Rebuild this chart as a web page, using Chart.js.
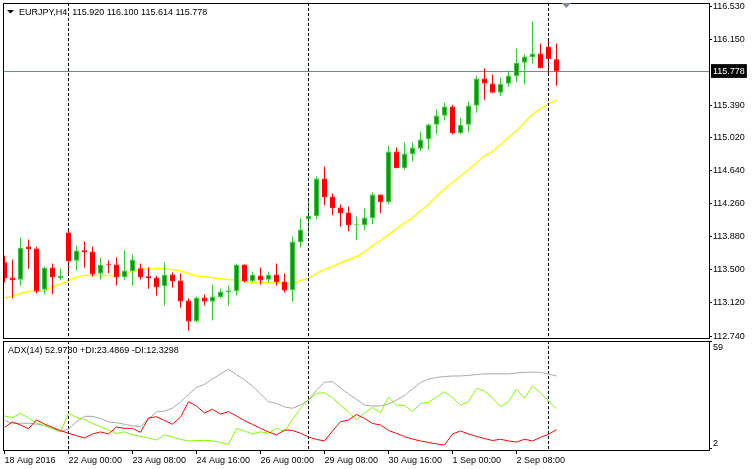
<!DOCTYPE html>
<html><head><meta charset="utf-8">
<script src="https://cdn.jsdelivr.net/npm/chart.js@4/dist/chart.umd.min.js"></script>
<style>
html,body{margin:0;padding:0;background:#fff;}
#wrap{position:relative;width:752px;height:469px;overflow:hidden;background:#fff;}
#c1{position:absolute;left:0;top:0;}
#c2{position:absolute;left:0;top:340px;}
.lbl{position:absolute;font:9px "Liberation Sans",Arial,sans-serif;color:#000;white-space:pre;}
</style></head><body>
<div id="wrap">
<canvas id="c1" width="752" height="340"></canvas>
<canvas id="c2" width="752" height="129"></canvas>
<div class="lbl" style="left:19px;top:7px">EURJPY,H4  115.920 116.100 115.614 115.778</div>
<div class="lbl" style="left:8px;top:345px">ADX(14) 52.9780 +DI:23.4869 -DI:12.3298</div>
</div>
<script>
// ---- data (H4 bars, left to right) ----
const openP = [113.588,113.413,113.386,113.769,113.746,113.272,113.528,113.405,113.929,113.604,
113.726,113.711,113.455,113.562,113.562,113.416,113.485,113.520,113.428,113.413,
113.313,113.447,113.378,113.149,112.908,113.183,113.134,113.187,113.244,113.256,
113.562,113.370,113.436,113.386,113.447,113.367,113.267,113.818,114.082,114.117,
114.549,114.343,114.216,114.159,114.013,114.013,114.094,114.366,114.277,114.859,
114.668,114.828,114.890,115.001,115.166,115.269,115.376,115.069,115.166,115.384,
115.698,115.640,115.533,115.637,115.724,115.878,115.942,115.985,116.065,115.920];
const highP = [113.665,113.619,113.869,113.849,113.765,113.539,113.573,113.516,113.964,113.780,
113.826,113.765,113.642,113.608,113.642,113.723,113.677,113.573,113.531,113.436,
113.585,113.470,113.459,113.172,113.195,113.218,113.332,113.287,113.321,113.573,
113.562,113.482,113.528,113.482,113.573,113.459,113.884,114.090,114.297,114.572,
114.687,114.377,114.251,114.228,114.113,114.205,114.389,114.366,114.928,114.905,
114.963,114.963,115.089,115.181,115.342,115.419,115.396,115.250,115.433,115.732,
115.812,115.743,115.709,115.789,116.042,115.973,116.355,116.099,116.145,116.100];
const lowP = [113.359,113.175,113.321,113.513,113.232,113.221,113.221,113.378,113.436,113.493,
113.528,113.424,113.390,113.462,113.321,113.386,113.321,113.390,113.283,113.206,
113.091,113.298,113.068,112.804,112.896,113.091,112.919,113.172,113.091,113.206,
113.359,113.359,113.332,113.359,113.321,113.241,113.137,113.757,113.918,114.082,
114.243,114.128,113.998,113.944,113.841,113.956,114.025,114.151,114.254,114.668,
114.653,114.748,114.863,114.874,115.058,115.215,115.058,115.058,115.081,115.304,
115.453,115.533,115.499,115.602,115.660,115.632,115.870,115.816,115.747,115.614];
const closeP = [113.405,113.382,113.754,113.738,113.252,113.524,113.416,113.432,113.600,113.723,
113.703,113.447,113.559,113.554,113.416,113.493,113.619,113.416,113.405,113.301,
113.444,113.370,113.137,112.908,113.183,113.137,113.195,113.252,113.264,113.559,
113.370,113.444,113.378,113.444,113.359,113.264,113.826,113.964,114.125,114.549,
114.335,114.208,114.151,114.013,114.025,114.102,114.366,114.277,114.859,114.668,
114.836,114.905,114.997,115.169,115.273,115.376,115.069,115.166,115.388,115.698,
115.640,115.533,115.637,115.732,115.878,115.950,115.985,115.816,115.919,115.778];
const maLine = [113.177,113.195,113.229,113.252,113.256,113.256,113.309,113.338,113.378,113.419,
113.436,113.436,113.436,113.436,113.436,113.459,113.487,113.505,113.513,113.513,
113.513,113.501,113.490,113.459,113.430,113.421,113.409,113.398,113.390,113.386,
113.367,113.352,113.352,113.352,113.350,113.344,113.346,113.378,113.405,113.459,
113.505,113.539,113.579,113.619,113.654,113.706,113.780,113.838,113.906,113.975,
114.036,114.098,114.182,114.254,114.345,114.427,114.504,114.578,114.653,114.727,
114.813,114.859,114.940,115.020,115.101,115.192,115.290,115.353,115.407,115.453];
const adxLine = [17.2,15.7,15.7,15.7,15.3,14.5,12.9,11.2,12.7,16.4,
19.4,19.4,18.3,16.4,16.0,15.2,14.3,13.9,18.0,21.7,
22.2,23.8,27.0,31.0,34.8,36.4,39.3,42.0,44.5,41.7,
38.8,35.6,31.3,27.2,26.3,24.4,23.7,25.4,28.1,33.4,
37.5,37.9,34.5,31.3,28.4,25.4,24.9,24.9,26.0,28.1,
30.5,34.0,37.4,39.3,40.1,40.6,40.9,40.9,41.2,41.7,
42.0,42.0,42.0,42.0,42.5,42.8,43.0,42.8,42.0,40.9];
const plusDI = [19.6,18.8,21.0,18.5,15.9,14.5,12.9,11.2,21.0,18.8,
17.7,15.6,13.9,12.1,10.2,11.2,9.6,8.7,7.9,6.8,
9.5,8.4,7.1,6.3,6.5,6.6,6.3,5.5,4.5,12.9,
11.6,10.0,11.1,10.4,13.2,11.3,17.7,23.6,28.1,31.6,
32.0,29.2,25.4,21.7,17.5,21.2,24.1,21.4,29.5,25.4,
25.2,22.0,26.2,26.9,29.7,32.5,29.5,25.2,27.2,34.3,
32.9,29.2,24.6,27.2,34.0,29.0,35.6,31.8,27.6,23.5];
const minusDI = [13.5,16.4,14.8,12.8,17.5,15.3,13.5,11.8,10.4,9.1,
7.9,10.0,11.1,10.0,13.7,13.0,13.0,10.9,18.5,19.2,
17.2,15.2,19.0,27.2,24.9,21.2,23.2,20.6,21.9,19.6,
17.1,15.1,13.0,11.1,9.5,12.1,11.9,10.4,8.4,7.1,
6.3,11.6,16.5,17.5,20.4,18.3,15.6,14.8,11.9,10.3,
8.6,7.3,6.3,5.5,4.7,4.1,10.0,11.6,10.0,8.7,
7.6,6.5,7.2,6.3,5.7,7.2,6.3,8.2,9.8,12.3];
const priceTicks = [116.530,116.150,115.778,115.390,115.020,114.640,114.260,113.880,113.500,113.120,112.740];
const bidPrice = 115.778;
const timeTickBars = [0,8,16,24,32,40,48,56,64];
const timeTickLabels = ['18 Aug 2016','22 Aug 00:00','23 Aug 08:00','24 Aug 16:00','26 Aug 00:00','29 Aug 08:00','30 Aug 16:00','1 Sep 00:00','2 Sep 08:00'];
const separatorBars = [8,38,68];
const adxTicks = [2,59];

// ---- chart ----
Chart.defaults.font.family = '"Liberation Sans", Arial, sans-serif';
Chart.defaults.font.size = 9;
Chart.defaults.color = '#000';

const xMin = -0.1875, xMax = 88.0625;
const idx = openP.map((_, i) => i);
const BULL_EDGE = '#32cd32', BULL_FILL = '#228b22', BEAR = '#ff0000';
const isBull = i => closeP[i] >= openP[i];

function noPad(s) { s.paddingTop = 0; s.paddingBottom = 0; s.paddingLeft = 0; s.paddingRight = 0; }
function drawSeparators(chart) {
  const {ctx, chartArea: a, scales: {x}} = chart;
  ctx.save();
  ctx.strokeStyle = '#000'; ctx.lineWidth = 1; ctx.setLineDash([3, 2]);
  separatorBars.forEach(b => {
    const px = Math.floor(x.getPixelForValue(b)) + 0.5;
    ctx.beginPath(); ctx.moveTo(px, a.top); ctx.lineTo(px, a.bottom); ctx.stroke();
  });
  ctx.restore();
}
function drawFrame(chart) {
  const {ctx, chartArea: a} = chart;
  ctx.save(); ctx.strokeStyle = '#000'; ctx.lineWidth = 1;
  ctx.strokeRect(Math.round(a.left) + 0.5, Math.round(a.top) + 0.5, Math.round(a.right - a.left), Math.round(a.bottom - a.top));
  ctx.restore();
}

const mainPlugin = {
  id: 'mainDeco',
  beforeDatasetDraw(chart, args) { if (args.index === 0) drawSeparators(chart); },
  afterDatasetsDraw(chart) {
    drawFrame(chart);
    const ctx = chart.ctx;
    ctx.save();
    ctx.fillStyle = '#000';
    ctx.beginPath(); ctx.moveTo(7, 10); ctx.lineTo(14, 10); ctx.lineTo(10.5, 13.5); ctx.closePath(); ctx.fill();
    ctx.fillStyle = '#7f8a96';
    ctx.beginPath(); ctx.moveTo(561.5, 3); ctx.lineTo(571, 3); ctx.lineTo(566.25, 8); ctx.closePath(); ctx.fill();
    ctx.restore();
  }
};
const adxPlugin = {
  id: 'adxDeco',
  beforeDatasetsDraw(chart) { drawSeparators(chart); },
  afterDatasetsDraw(chart) { drawFrame(chart); }
};

new Chart(document.getElementById('c1'), {
  type: 'bar',
  data: { datasets: [
    { label: 'Body', data: idx.map(i => ({x: i, y: [openP[i], closeP[i]]})), order: 0, grouped: false,
      maxBarThickness: 5, minBarLength: 1, borderWidth: 1, borderSkipped: false, inflateAmount: 0,
      backgroundColor: c => isBull(c.dataIndex) ? BULL_FILL : BEAR,
      borderColor: c => isBull(c.dataIndex) ? BULL_EDGE : BEAR },
    { label: 'Wick', data: idx.map(i => ({x: i, y: [lowP[i], highP[i]]})), order: 1, grouped: false,
      maxBarThickness: 1, borderWidth: 0, inflateAmount: 0,
      backgroundColor: c => isBull(c.dataIndex) ? BULL_EDGE : BEAR },
    { type: 'line', label: 'MA', data: idx.map(i => ({x: i, y: maLine[i]})), order: 2,
      borderColor: '#ffff00', borderWidth: 1.5, pointRadius: 0, tension: 0 },
    { type: 'line', label: 'Bid', data: [{x: xMin, y: bidPrice}, {x: xMax, y: bidPrice}], order: 3,
      borderColor: '#778899', borderWidth: 1, pointRadius: 0 }
  ]},
  options: {
    responsive: false, animation: false, devicePixelRatio: 1,
    layout: { padding: { left: 3, top: 3, right: 0, bottom: 2 } },
    plugins: { legend: { display: false }, tooltip: { enabled: false } },
    scales: {
      x: { type: 'linear', display: false, min: xMin, max: xMax, offset: false },
      y: { type: 'linear', position: 'right', min: 112.7181, max: 116.5647,
        afterBuildTicks: s => { s.ticks = priceTicks.map(v => ({value: v})); },
        afterFit: s => { s.width = 43; noPad(s); },
        grid: { drawOnChartArea: false, drawTicks: true, tickLength: 3,
          color: c => (c.tick && c.tick.value === bidPrice) ? 'rgba(0,0,0,0)' : '#000' },
        border: { display: false },
        ticks: { autoSkip: false, padding: 1,
          color: c => (c.tick && c.tick.value === bidPrice) ? '#fff' : '#000',
          showLabelBackdrop: c => !!(c.tick && c.tick.value === bidPrice),
          backdropColor: '#000', backdropPadding: {top: 2, bottom: 1, left: 2, right: 2},
          callback: v => Number(v).toFixed(3) } }
    }
  },
  plugins: [mainPlugin]
});

new Chart(document.getElementById('c2'), {
  type: 'line',
  data: { datasets: [
    { label: 'ADX(14)', data: idx.map(i => ({x: i, y: adxLine[i]})), borderColor: '#a8a8a8', order: 2 },
    { label: '+DI', data: idx.map(i => ({x: i, y: plusDI[i]})), borderColor: '#7cfc00', order: 1 },
    { label: '-DI', data: idx.map(i => ({x: i, y: minusDI[i]})), borderColor: '#ff0000', order: 0 }
  ]},
  options: {
    responsive: false, animation: false, devicePixelRatio: 1,
    layout: { padding: { left: 3, top: 1, right: 0, bottom: 0 } },
    elements: { point: { radius: 0 }, line: { borderWidth: 1, tension: 0 } },
    plugins: { legend: { display: false }, tooltip: { enabled: false } },
    scales: {
      x: { type: 'linear', min: xMin, max: xMax, offset: false,
        afterBuildTicks: s => { s.ticks = timeTickBars.map(v => ({value: v})); },
        afterFit: s => { s.height = 19; noPad(s); },
        grid: { drawOnChartArea: false, drawTicks: true, tickLength: 4, color: '#000' },
        border: { display: false },
        ticks: { autoSkip: false, maxRotation: 0, minRotation: 0, align: 'start', padding: 1,
          callback: (v, i) => timeTickLabels[i] } },
      y: { type: 'linear', position: 'right', min: 1.467, max: 59.53,
        afterBuildTicks: s => { s.ticks = adxTicks.map(v => ({value: v})); },
        afterFit: s => { s.width = 43; noPad(s); },
        grid: { drawOnChartArea: false, drawTicks: true, tickLength: 3, color: '#000' },
        border: { display: false },
        ticks: { autoSkip: false, padding: 1,
          callback: v => v === adxTicks[1] ? ['', String(v)] : [String(v), ''] } }
    }
  },
  plugins: [adxPlugin]
});
</script>
</body></html>
